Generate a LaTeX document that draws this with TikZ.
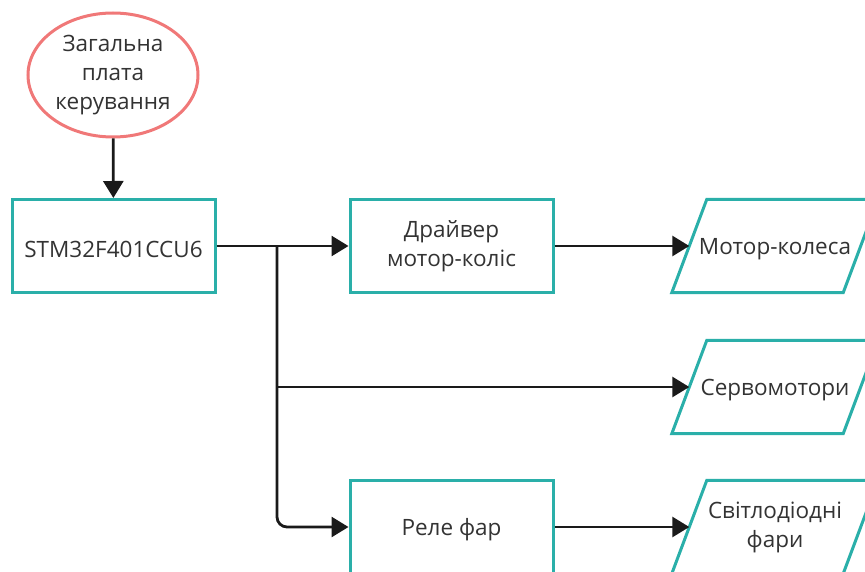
\documentclass[tikz,border=0pt]{standalone}
\usepackage{fontspec}
\setmainfont{Open Sans}
\usetikzlibrary{shapes.geometric,arrows.meta}

\definecolor{tealb}{HTML}{2AAFA9}
\definecolor{redb}{HTML}{F07878}
\definecolor{txt}{HTML}{333333}
\definecolor{wire}{HTML}{1A1A1A}

\tikzset{
	label text/.style={text=txt, align=center, font=\fontsize{22.5}{29}\selectfont,
		execute at begin node={\rule{0pt}{23pt}}},
	block/.style={draw=tealb, line width=3pt, rectangle, minimum width=203pt, minimum height=93pt, label text},
	devline/.style={draw=tealb, line width=3pt, line join=miter},
	device/.style={rectangle, minimum width=171pt, minimum height=93pt, inner sep=0pt, label text,
		append after command={\pgfextra{\let\dev=\tikzlastnode
			\draw [devline] ([xshift=-17.5pt]\dev.south west) -- ([xshift=17.5pt]\dev.north west)
				-- ([xshift=17.5pt]\dev.north east) -- ([xshift=-17.5pt]\dev.south east) -- cycle;}}},
	source/.style={draw=redb, line width=3pt, ellipse, minimum width=170pt, minimum height=124pt, inner sep=0pt, label text},
	flow/.style={draw=wire, line width=2.8pt, -{Triangle[length=17pt, width=20pt]}}
}

\begin{document}
\begin{tikzpicture}[x=1pt, y=-1pt]
		\useasboundingbox (0,0) rectangle (865,572);
		\clip (0,0) rectangle (865,572);

		\draw (113,75) node [source] (ctrl) {Загальна\\плата\\керування};
		\draw (113.5,246) node [block] (stm) {STM32F401CCU6};
		\draw (451.5,246) node [block] (drv) {Драйвер\\мотор-коліс};
		\draw (451.5,527) node [block] (rele) {Реле фар};
		\path (775,246) node [device] (wheels) {Мотор-колеса};
		\path (775,387) node [device] (servo) {Сервомотори};
		\path (775,527) node [device] (leds) {Світлодіодні\\фари};

		\coordinate (br) at (277,246);

		\draw [flow] (ctrl) -- (stm);
		\draw [flow] (stm) -- (drv);
		\draw [flow] (drv) -- (wheels);
		\draw [flow] (br) |- (servo);
		\draw [flow, rounded corners=10pt] (br) |- (rele);
		\draw [flow] (rele) -- (leds);
	\end{tikzpicture}
\end{document}
